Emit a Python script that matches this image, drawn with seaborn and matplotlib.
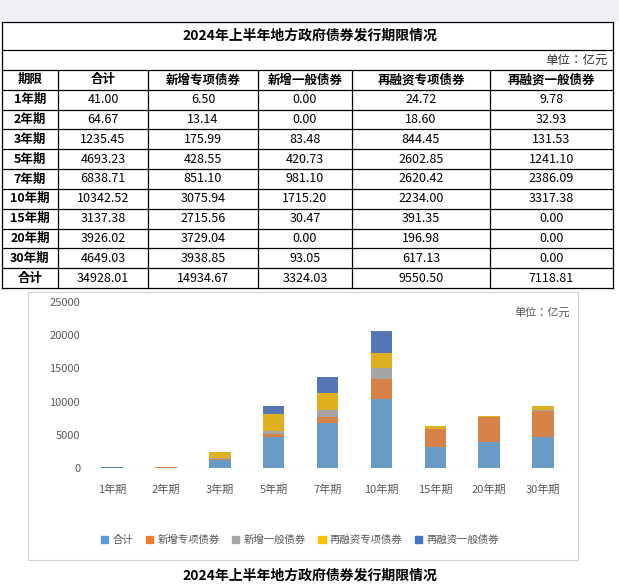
import numpy as np
import pandas as pd
import matplotlib.pyplot as plt
from matplotlib import font_manager
import seaborn as sns

# 找到可用的中文字体
cjk = [f.name for f in font_manager.fontManager.ttflist if "CJK" in f.name]
cjk_name = "Noto Sans CJK SC" if "Noto Sans CJK SC" in cjk else (cjk[0] if cjk else "DejaVu Sans")
plt.rcParams["font.family"] = "sans-serif"
plt.rcParams["font.sans-serif"] = [cjk_name, "DejaVu Sans"]

# 数据
periods = ["1年期", "2年期", "3年期", "5年期", "7年期", "10年期", "15年期", "20年期", "30年期"]
series_names = ["合计", "新增专项债券", "新增一般债券", "再融资专项债券", "再融资一般债券"]
total = [41.00, 64.67, 1235.45, 4693.23, 6838.71, 10342.52, 3137.38, 3926.02, 4649.03]
new_special = [6.50, 13.14, 175.99, 428.55, 851.10, 3075.94, 2715.56, 3729.04, 3938.85]
new_general = [0.00, 0.00, 83.48, 420.73, 981.10, 1715.20, 30.47, 0.00, 93.05]
refi_special = [24.72, 18.60, 844.45, 2602.85, 2620.42, 2234.00, 391.35, 196.98, 617.13]
refi_general = [9.78, 32.93, 131.53, 1241.10, 2386.09, 3317.38, 0.00, 0.00, 0.00]
sum_row = [34928.01, 14934.67, 3324.03, 9550.50, 7118.81]

colors = ["#5B9BD5", "#ED7D31", "#A5A5A5", "#FFC000", "#4472C4"]
title = "2024年上半年地方政府债券发行期限情况"

fig = plt.figure(figsize=(6.19, 5.88), dpi=100)
W, H = 619, 588

# ---- 表格 ----
tab = fig.add_axes([0, 0, 1, 1])
tab.set_xlim(0, W)
tab.set_ylim(H, 0)
tab.axis("off")
tab.add_patch(plt.Rectangle((0, 0), W, 20, color="#eef0f5", zorder=0))
x0, x1 = 2, 613
cols = [2, 58, 148, 258, 352, 490, 613]
y_title, y_unit, y_head = 22, 50, 70
rh = (288 - y_head) / 11
lw = 0.9
for y in [y_title, y_unit, y_head] + [y_head + rh * i for i in range(1, 12)]:
    tab.plot([x0, x1], [y, y], color="black", lw=lw)
for x in [x0, x1]:
    tab.plot([x, x], [y_title, 288], color="black", lw=lw)
for x in cols[1:-1]:
    tab.plot([x, x], [y_head, 288], color="black", lw=lw)
tab.text(W / 2, (y_title + y_unit) / 2, title, ha="center", va="center", fontsize=10, fontweight="bold")
tab.text(608, (y_unit + y_head) / 2, "单位：亿元", ha="right", va="center", fontsize=9, color="#333333")

header = ["期限"] + series_names
rows = [[p] + [f"{v:.2f}" for v in vals] for p, *vals in
        zip(periods, total, new_special, new_general, refi_special, refi_general)]
rows.append(["合计"] + [f"{v:.2f}" for v in sum_row])
for r, row in enumerate([header] + rows):
    yc = y_head + rh * (r + 0.5)
    for c, txt in enumerate(row):
        xc = (cols[c] + cols[c + 1]) / 2
        bold = (c == 0) or (r == 0)
        tab.text(xc, yc, txt, ha="center", va="center", fontsize=9,
                 fontweight="bold" if bold else "normal")

# ---- 图表 ----
tab.add_patch(plt.Rectangle((28, 292), 550, 268, fill=False, edgecolor="#d0d0d0", lw=0.8))
tab.text(W / 2, 576, title, ha="center", va="center", fontsize=10, fontweight="bold")

ax = fig.add_axes([85 / W, 1 - 468 / H, (570 - 85) / W, (468 - 302) / H])
df = pd.DataFrame({"期限": periods, "合计": total, "新增专项债券": new_special,
                   "新增一般债券": new_general, "再融资专项债券": refi_special,
                   "再融资一般债券": refi_general})
bottom = np.zeros(len(periods))
for name, col in zip(series_names, colors):
    sns.barplot(data=df, x="期限", y=name, color=col, ax=ax, width=0.4,
                bottom=bottom.copy(), zorder=3)
    bottom += df[name].values
ax.set_ylim(0, 25000)
ax.set_yticks(range(0, 25001, 5000))
ax.set_xlabel("")
ax.set_ylabel("")
ax.tick_params(length=0, labelsize=8, colors="#595959")
ax.tick_params(axis="x", pad=12)
for s in ax.spines.values():
    s.set_visible(False)
ax.axhline(0, color="#d9d9d9", lw=0.8)
ax.text(1.0, 0.97, "单位：亿元", transform=ax.transAxes, ha="right", va="top", fontsize=8, color="#595959")

handles = [plt.Rectangle((0, 0), 1, 1, color=c) for c in colors]
fig.legend(handles, series_names, loc="center", bbox_to_anchor=(300 / W, 1 - 540 / H),
           ncol=5, frameon=False, fontsize=7.5, handlelength=0.7, handleheight=0.7,
           columnspacing=1.2, handletextpad=0.4, labelcolor="#595959")

fig.savefig("out.png", dpi=100)
